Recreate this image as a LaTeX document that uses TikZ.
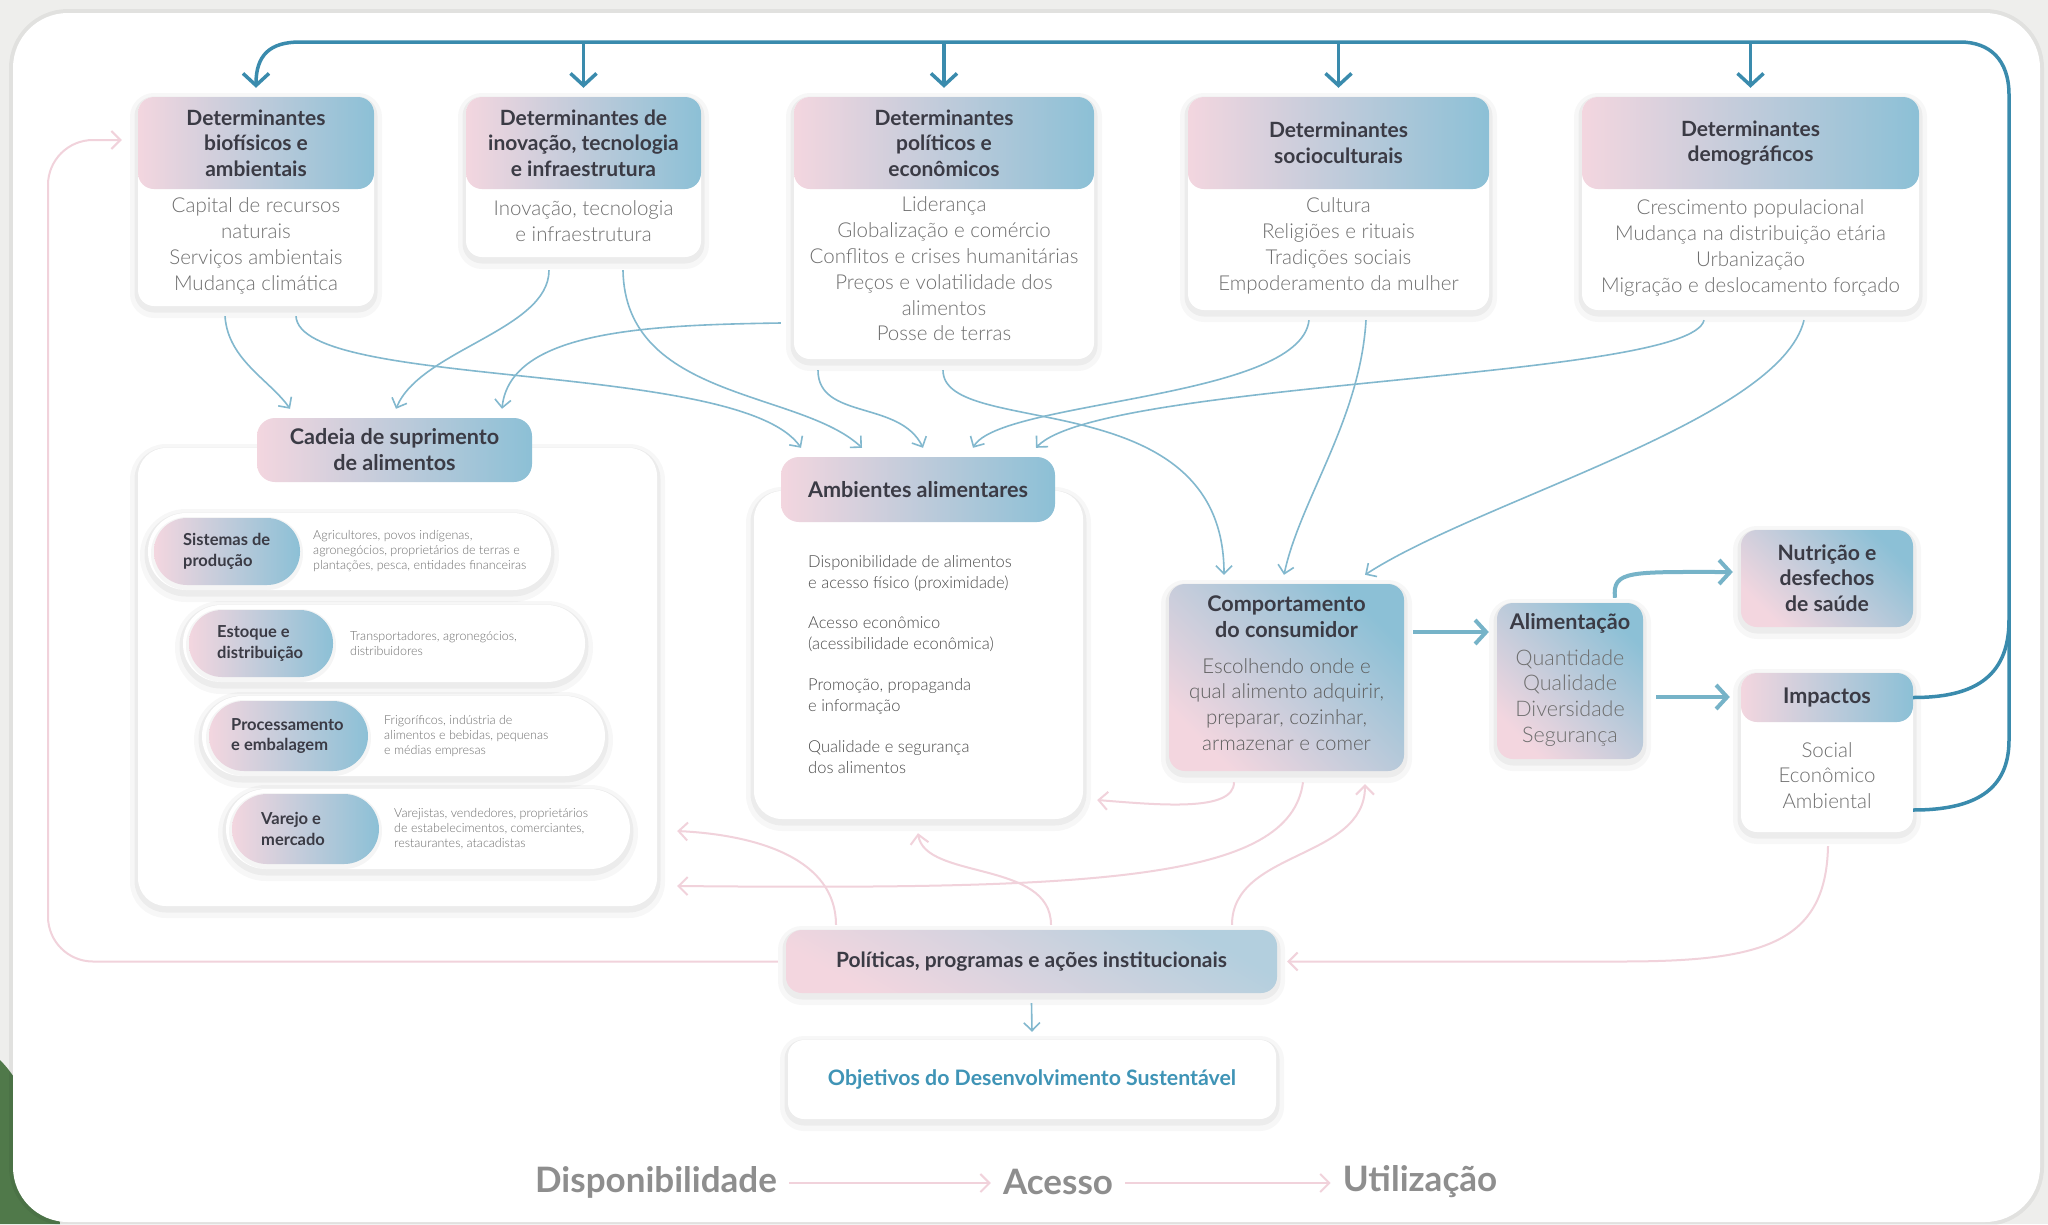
\documentclass[tikz,border=0pt]{standalone}
\usepackage{fontspec}
\setmainfont{Lato}
\IfFontExistsTF{Lato Light}{\newfontfamily\lightfont{Lato Light}}{\newfontfamily\lightfont{Lato}}
\usetikzlibrary{arrows.meta,calc}
\definecolor{pinkc}{HTML}{F3D6DF}
\definecolor{bluec}{HTML}{8CC0D6}
\definecolor{pbluec}{HTML}{B3CFDE}
\definecolor{titlec}{HTML}{3B3B45}
\definecolor{bodyc}{HTML}{6E6E6E}
\definecolor{ambc}{HTML}{4A4A4A}
\definecolor{linkc}{HTML}{82B8CE}
\definecolor{topc}{HTML}{3A8BAD}
\definecolor{thickc}{HTML}{76B3C8}
\definecolor{fbc}{HTML}{F1D2DB}
\definecolor{bgc}{HTML}{EEEEEC}
\definecolor{greenc}{HTML}{50794A}
\definecolor{sdgc}{HTML}{3F94B6}
\definecolor{lblc}{HTML}{8E8E8E}
\tikzset{
  sh/.style={preaction={draw=black, draw opacity=0.03, line width=16pt, transform canvas={yshift=-4pt}},
             preaction={draw=black, draw opacity=0.045, line width=7pt, transform canvas={yshift=-3pt}}},
  card/.style={fill=white, rounded corners=16pt, inner sep=0pt, draw=none, sh},
  gcard/.style={rounded corners=16pt, inner sep=0pt, top color=bluec, bottom color=pinkc, shading angle=-45, sh},
  hdr/.style={rounded corners=16pt, inner sep=0pt, left color=pinkc, right color=bluec},
  ttl/.style={font=\bfseries\fontsize{21}{25.5}\selectfont, text=titlec, align=center, inner sep=0pt},
  htl/.style={font=\bfseries\fontsize{21.6}{26}\selectfont},
  bdy/.style={font=\lightfont\fontsize{20.5}{25.8}\selectfont, text=bodyc, align=center, inner sep=0pt},
  pill/.style={fill=white, inner sep=0pt, sh},
  ipill/.style={inner sep=0pt, left color=pinkc, right color=bluec,
             preaction={draw=black, draw opacity=0.04, line width=6pt, transform canvas={yshift=-2pt}}},
  rlbl/.style={font=\bfseries\fontsize{16.5}{20.5}\selectfont, text=titlec, align=left, inner sep=0pt, anchor=west},
  rdsc/.style={font=\lightfont\fontsize{12.5}{15}\selectfont, text=bodyc, align=left, inner sep=0pt, anchor=west},
  amtx/.style={font=\lightfont\fontsize{16.5}{21}\selectfont, text=ambc, align=left, inner sep=0pt, anchor=west},
  link/.style={draw=linkc, line width=1.6pt, -{Straight Barb[length=8pt,width=16pt]}},
  topl/.style={draw=topc, line width=3.5pt},
  toparr/.style={topl, -{Straight Barb[length=12pt,width=26pt]}},
  tarr/.style={draw=thickc, line width=4pt, -{Straight Barb[length=11pt,width=24pt]}},
  fb/.style={draw=fbc, line width=2pt, -{Straight Barb[length=9pt,width=18pt]}},
  big/.style={font=\bfseries\fontsize{35}{40}\selectfont, text=lblc, inner sep=0pt}
}
\begin{document}
\begin{tikzpicture}[x=1pt,y=-1pt]
\useasboundingbox (0,0) rectangle (2048,1224);
\fill[bgc] (0,0) rectangle (2048,1224);
\fill[greenc] (0,1060) .. controls (30,1090) and (50,1150) .. (60,1224) -- (0,1224) -- cycle;
\path[fill=white, rounded corners=55pt, preaction={draw=black, draw opacity=0.05, line width=8pt}] (13,13) rectangle (2040,1222);

% ---------- Determinants ----------
\node[card, minimum width=236pt, minimum height=209pt] (bio) at (256,201.5) {};
\node[hdr, ttl, minimum width=236pt, minimum height=92pt] (bioh) at (256,143) {Determinantes\\biofísicos e\\ambientais};
\node[bdy] (biot) at (256,246) {Capital de recursos\\naturais\\Serviços ambientais\\Mudança climática};

\node[card, minimum width=235pt, minimum height=160pt] (ino) at (583.5,177) {};
\node[hdr, ttl, minimum width=235pt, minimum height=92pt] (inoh) at (583.5,143) {Determinantes de\\inovação, tecnologia\\e infraestrutura};
\node[bdy] (inot) at (583.5,221) {Inovação, tecnologia\\e infraestrutura};

\node[card, minimum width=300pt, minimum height=262pt] (pol) at (944,228) {};
\node[hdr, ttl, minimum width=300pt, minimum height=92pt] (polh) at (944,143) {Determinantes\\políticos e\\econômicos};
\node[bdy] (polt) at (944,269) {Liderança\\Globalização e comércio\\Conflitos e crises humanitárias\\Preços e volatilidade dos\\alimentos\\Posse de terras};

\node[card, minimum width=301pt, minimum height=213pt] (soc) at (1338.5,203.5) {};
\node[hdr, ttl, minimum width=301pt, minimum height=92pt] (soch) at (1338.5,143) {Determinantes\\socioculturais};
\node[bdy] (soct) at (1338.5,246) {Cultura\\Religiões e rituais\\Tradições sociais\\Empoderamento da mulher};

\node[card, minimum width=337pt, minimum height=213pt] (dem) at (1750.5,203.5) {};
\node[hdr, ttl, minimum width=337pt, minimum height=92pt] (demh) at (1750.5,143) {Determinantes\\demográficos};
\node[bdy] (demt) at (1750.5,248) {Crescimento populacional\\Mudança na distribuição etária\\Urbanização\\Migração e deslocamento forçado};

% ---------- Cadeia ----------
\node[card, rounded corners=28pt, minimum width=519pt, minimum height=458pt] (cad) at (397.5,677) {};
\node[hdr, ttl, htl, rounded corners=18pt, minimum width=275pt, minimum height=64pt] (cadh) at (394.5,450) {Cadeia de suprimento\\de alimentos};

\node[pill, rounded corners=38pt, minimum width=403pt, minimum height=77pt] (r1) at (349.5,551.5) {};
\node[ipill, rounded corners=33pt, minimum width=146pt, minimum height=67pt] (r1p) at (227,551.5) {};
\node[rlbl] (r1l) at (183,551.5) {Sistemas de\\produção};
\node[rdsc] (r1d) at (313,551.5) {Agricultores, povos indígenas,\\agronegócios, proprietários de terras e\\plantações, pesca, entidades financeiras};

\node[pill, rounded corners=38pt, minimum width=402pt, minimum height=77pt] (r2) at (384,643.5) {};
\node[ipill, rounded corners=33pt, minimum width=144pt, minimum height=67pt] (r2p) at (261,643.5) {};
\node[rlbl] (r2l) at (217,643.5) {Estoque e\\distribuição};
\node[rdsc] (r2d) at (350,643.5) {Transportadores, agronegócios,\\distribuidores};

\node[pill, rounded corners=40pt, minimum width=403pt, minimum height=80pt] (r3) at (403.5,736) {};
\node[ipill, rounded corners=35pt, minimum width=159pt, minimum height=70pt] (r3p) at (288.5,736) {};
\node[rlbl] (r3l) at (231,736) {Processamento\\e embalagem};
\node[rdsc] (r3d) at (384,736) {Frigoríficos, indústria de\\alimentos e bebidas, pequenas\\e médias empresas};

\node[pill, rounded corners=40pt, minimum width=404pt, minimum height=80pt] (r4) at (428,829) {};
\node[ipill, rounded corners=35pt, minimum width=147pt, minimum height=70pt] (r4p) at (305.5,829) {};
\node[rlbl] (r4l) at (261,829) {Varejo e\\mercado};
\node[rdsc] (r4d) at (394,829) {Varejistas, vendedores, proprietários\\de estabelecimentos, comerciantes,\\restaurantes, atacadistas};

% ---------- Ambientes ----------
\node[card, rounded corners=28pt, minimum width=329pt, minimum height=328pt] (amb) at (918.5,655) {};
\node[hdr, ttl, htl, rounded corners=18pt, minimum width=274pt, minimum height=65pt] (ambh) at (918,489.5) {Ambientes alimentares};
\node[amtx] (a1) at (808,573.5) {Disponibilidade de alimentos\\e acesso físico (proximidade)};
\node[amtx] (a2) at (808,634.5) {Acesso econômico\\(acessibilidade econômica)};
\node[amtx] (a3) at (808,696.5) {Promoção, propaganda\\e informação};
\node[amtx] (a4) at (808,757.5) {Qualidade e segurança\\dos alimentos};

% ---------- Comportamento / Alimentação / Nutrição / Impactos ----------
\node[gcard, minimum width=235pt, minimum height=187pt] (comp) at (1286.5,677.5) {};
\node[ttl, htl] (compt) at (1286.5,616.5) {Comportamento\\do consumidor};
\node[bdy, text=bodyc!85!black] (compb) at (1286.5,704.5) {Escolhendo onde e\\qual alimento adquirir,\\preparar, cozinhar,\\armazenar e comer};

\node[gcard, minimum width=146pt, minimum height=156pt] (alim) at (1570,681) {};
\node[ttl, htl] (alimt) at (1570,623) {Alimentação};
\node[bdy, font=\lightfont\fontsize{21.5}{25.7}\selectfont] (alimb) at (1570,698) {Quantidade\\Qualidade\\Diversidade\\Segurança};

\node[gcard, minimum width=172pt, minimum height=97pt] (nut) at (1827,578.5) {};
\node[ttl, font=\bfseries\fontsize{21.2}{25.5}\selectfont] (nutt) at (1827,578) {Nutrição e\\desfechos\\de saúde};

\node[card, minimum width=172pt, minimum height=159pt] (imp) at (1827,752.5) {};
\node[hdr, ttl, htl, minimum width=172pt, minimum height=49pt] (imph) at (1827,697.5) {Impactos};
\node[bdy] (impb) at (1827,775.5) {Social\\Econômico\\Ambiental};

% ---------- Políticas / Objetivos ----------
\node[gcard, top color=pbluec, bottom color=pinkc, shading angle=-30, minimum width=491pt, minimum height=63pt, font=\bfseries\fontsize{21}{25}\selectfont, text=titlec] (pols) at (1031.5,961.5) {Políticas, programas e ações institucionais};
\node[card, minimum width=488pt, minimum height=79pt, font=\bfseries\fontsize{21.3}{25}\selectfont, text=sdgc] (obj) at (1032,1079.5) {Objetivos do Desenvolvimento Sustentável};

% ---------- Bottom labels ----------
\node[big] (disp) at (656,1182) {Disponibilidade};
\node[big] (acc) at (1058,1182) {Acesso};
\node[big] (util) at (1420,1182) {Utilização};

% ---------- Top feedback line ----------
\draw[toparr] ($(imp.east)+(0,57.5)$) .. controls (1975,810) and (2009,790) .. (2009,740) -- (2009,95) .. controls (2009,60) and (1990,42) .. (1960,42) -- (300,42) .. controls (270,42) and (256,55) .. ($(bioh.north)+(0,-9)$);
\draw[topl] (imph.east) .. controls (1970,697.5) and (2009,680) .. (2009,620);
\foreach \n in {inoh,polh,soch,demh}
  \draw[toparr] ($(\n.north)+(0,-55)$) -- ($(\n.north)+(0,-9)$);

% ---------- Thin blue links ----------
\draw[link] ($(bio.south)+(-31,10)$) .. controls (228,360) and (270,380) .. ($(cadh.north)+(-104.5,-9)$);
\draw[link] ($(bio.south)+(40,10)$) .. controls (300,390) and (740,360) .. ($(ambh.north)+(-117,-9)$);
\draw[link] ($(ino.south)+(-34.5,13)$) .. controls (549,330) and (420,350) .. ($(cadh.north)+(1.5,-9)$);
\draw[link] ($(ino.south)+(39.5,13)$) .. controls (625,400) and (800,390) .. ($(ambh.north)+(-56,-9)$);
\draw[link] ($(pol.west)+(-13,95)$) .. controls (650,325) and (510,330) .. ($(cadh.north)+(107.5,-9)$);
\draw[link] ($(pol.south)+(-126,11)$) .. controls (818,420) and (900,400) .. ($(ambh.north)+(5,-9)$);
\draw[link] ($(pol.south)+(-1,11)$) .. controls (943,440) and (1224,380) .. ($(comp.north)+(-62.5,-9)$);
\draw[link] ($(soc.south)+(-29.5,10)$) .. controls (1300,400) and (1000,400) .. ($(ambh.north)+(55,-9)$);
\draw[link] ($(soc.south)+(27.5,10)$) .. controls (1360,420) and (1300,500) .. ($(comp.north)+(-2.5,-9)$);
\draw[link] ($(dem.south)+(-46.5,10)$) .. controls (1690,380) and (1100,380) .. ($(ambh.north)+(118,-9)$);
\draw[link] ($(dem.south)+(53.5,10)$) .. controls (1780,420) and (1480,500) .. ($(comp.north)+(78.5,-9)$);
\draw[link] ($(pols.south)+(0,10)$) -- ($(obj.north)+(0,-8)$);

% ---------- Thick arrows ----------
\draw[tarr] ($(comp.east)+(9,-45.5)$) -- ($(alim.west)+(-8,-49)$);
\draw[tarr] ($(alim.east)+(13,16)$) -- ($(imp.west)+(-11,-55.5)$);
\draw[tarr] ($(alim.north)+(45,-5)$) .. controls (1612,570) and (1630,572) .. ($(nut.west)+(-8,-6.5)$);

% ---------- Pink feedback ----------
\draw[fb, rounded corners=45pt] ($(pols.west)+(-8,0)$) -- (48,961.5) -- (48,140) -- ($(bioh.west)+(-16,-3)$);
\draw[fb] ($(comp.south)+(-52.5,11)$) .. controls (1234,812) and (1160,805) .. ($(amb.east)+(14,145)$);
\draw[fb] ($(comp.south)+(16.5,11)$) .. controls (1290,880) and (1100,890) .. ($(cad.east)+(20,209)$);
\draw[fb] ($(pols.north)+(-195.5,-5)$) .. controls (836,860) and (760,835) .. ($(cad.east)+(20,154)$);
\draw[fb] ($(pols.north)+(19.5,-5)$) .. controls (1051,860) and (925,880) .. ($(amb.south)+(-0.5,14)$);
\draw[fb] ($(pols.north)+(200.5,-5)$) .. controls (1232,850) and (1365,860) .. ($(comp.south)+(78.5,13)$);
\draw[fb] ($(imp.south)+(1,14)$) .. controls (1826,945) and (1760,961.5) .. (1620,961.5) -- ($(pols.east)+(10,0)$);
\draw[fb] ($(disp.east)+(12,1)$) -- ($(acc.west)+(-12,1)$);
\draw[fb] ($(acc.east)+(12,1)$) -- ($(util.west)+(-12,1)$);
\end{tikzpicture}
\end{document}
